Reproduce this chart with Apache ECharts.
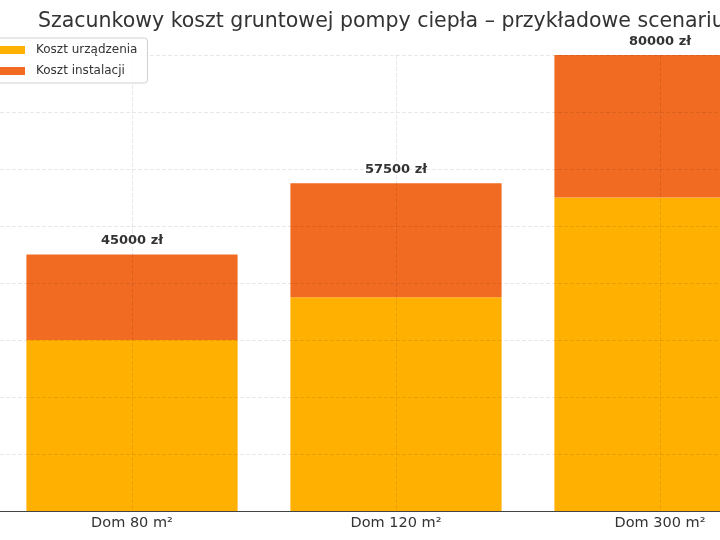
<!DOCTYPE html>
<html>
<head>
<meta charset="utf-8">
<script src="https://cdn.jsdelivr.net/npm/echarts@6/dist/echarts.min.js"></script>
<style>html,body{margin:0;padding:0;background:#fff;overflow:hidden;width:720px;height:540px;}#c{width:800px;height:540px;}</style>
</head>
<body>
<div id="c"></div>
<script>
const categories = ['Dom 80 m²', 'Dom 120 m²', 'Dom 300 m²'];
const kosztUrzadzenia = [30000, 37500, 55000];
const kosztInstalacji = [15000, 20000, 25000];
const totals = [45000, 57500, 80000];
const seriesNames = ['Koszt urządzenia', 'Koszt instalacji'];
const titleText = 'Szacunkowy koszt gruntowej pompy ciepła – przykładowe scenariusze';

const chart = echarts.init(document.getElementById('c'), null, {renderer: 'canvas'});
const font = 'DejaVu Sans';
chart.setOption({
  animation: false,
  textStyle: {fontFamily: font},
  title: {
    text: titleText,
    left: 33, top: 6,
    textStyle: {fontFamily: font, fontSize: 20.5, fontWeight: 'normal', color: '#333'}
  },
  legend: {
    orient: 'vertical',
    left: -10, top: 38,
    icon: 'rect',
    itemWidth: 28, itemHeight: 8, itemGap: 9,
    padding: [6, 10, 6, 7],
    borderColor: '#d0d0d0', borderWidth: 1, borderRadius: 3,
    backgroundColor: 'rgba(255,255,255,0.85)',
    textStyle: {fontFamily: font, fontSize: 12, color: '#333', padding: [0, 0, 0, 6]},
    data: seriesNames
  },
  grid: {left: 0, width: 792, top: 55, bottom: 29},
  xAxis: {
    type: 'category',
    data: categories,
    z: 3,
    axisLine: {lineStyle: {color: '#444', width: 1}},
    axisTick: {alignWithLabel: true, length: 4, lineStyle: {color: '#444'}},
    axisLabel: {fontFamily: font, fontSize: 14.5, color: '#333', margin: 5},
    splitLine: {show: true, alignWithLabel: true, lineStyle: {color: 'rgba(0,0,0,0.09)', type: [4, 2]}}
  },
  yAxis: {
    type: 'value',
    min: 0, max: 80000, interval: 10000,
    z: 3,
    axisLabel: {show: false},
    axisLine: {show: false},
    axisTick: {show: false},
    splitLine: {show: true, lineStyle: {color: 'rgba(0,0,0,0.09)', type: [4, 2]}}
  },
  series: [
    {
      name: seriesNames[0], type: 'bar', stack: 'a', barWidth: '80%',
      itemStyle: {color: '#FFB000'},
      data: kosztUrzadzenia
    },
    {
      name: seriesNames[1], type: 'bar', stack: 'a', barWidth: '80%',
      itemStyle: {color: '#F26B22'},
      label: {
        show: true, position: 'top', distance: 7,
        fontFamily: font, fontSize: 13, fontWeight: 'bold', color: '#333',
        formatter: p => totals[p.dataIndex] + ' zł'
      },
      data: kosztInstalacji
    }
  ]
});
</script>
</body>
</html>
